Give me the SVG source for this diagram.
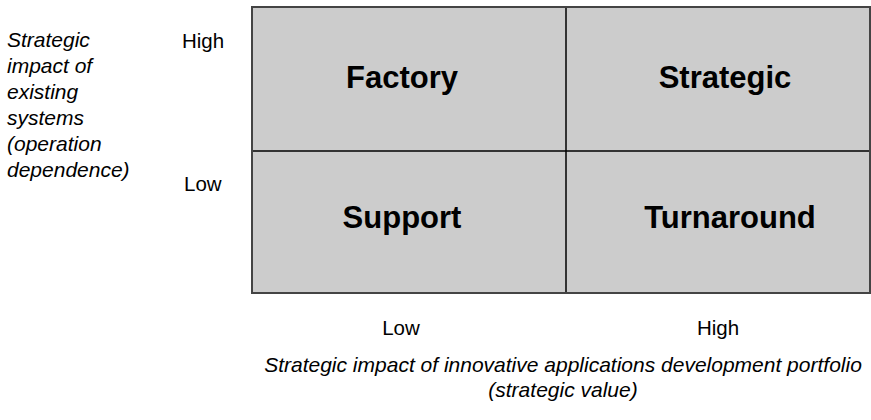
<svg xmlns="http://www.w3.org/2000/svg" width="871" height="420" viewBox="0 0 871 420">
<style>
.cell{fill:#cccccc;stroke:none}
.q{font-family:"Liberation Sans",Arial,sans-serif;font-weight:bold;font-size:31px;fill:#000}
.lab{font-family:"Liberation Sans",Arial,sans-serif;font-size:20.5px;fill:#000}
.it{font-family:"Liberation Sans",Arial,sans-serif;font-style:italic;font-size:21px;fill:#000}
.grid{stroke:#000;stroke-width:1.5;fill:none}
.frame{stroke:#444;stroke-width:2;fill:none}
</style>
<rect class="cell" x="252" y="7" width="618" height="286"/>
<g id="grid">
<line class="grid" x1="566" y1="7" x2="566" y2="293"/>
<line class="grid" x1="252" y1="151" x2="870" y2="151"/>
<rect class="frame" x="252" y="7" width="618" height="286"/>
</g>
<g id="factory"><text class="q" x="402" y="88" text-anchor="middle">Factory</text></g>
<g id="strategic"><text class="q" x="725" y="88" text-anchor="middle">Strategic</text></g>
<g id="support"><text class="q" x="402" y="228" text-anchor="middle">Support</text></g>
<g id="turnaround"><text class="q" x="730" y="228" text-anchor="middle">Turnaround</text></g>
<g id="yaxis">
<text class="it" x="7" y="47">Strategic</text>
<text class="it" x="7" y="73">impact of</text>
<text class="it" x="7" y="99">existing</text>
<text class="it" x="7" y="125">systems</text>
<text class="it" x="7" y="151">(operation</text>
<text class="it" x="7" y="177">dependence)</text>
<text class="lab" x="182" y="48">High</text>
<text class="lab" x="184" y="191">Low</text>
</g>
<g id="xaxis">
<text class="lab" x="401" y="335" text-anchor="middle">Low</text>
<text class="lab" x="718" y="335" text-anchor="middle">High</text>
<text class="it" x="563" y="372" text-anchor="middle">Strategic impact of innovative applications development portfolio</text>
<text class="it" x="563" y="397" text-anchor="middle">(strategic value)</text>
</g>
</svg>
